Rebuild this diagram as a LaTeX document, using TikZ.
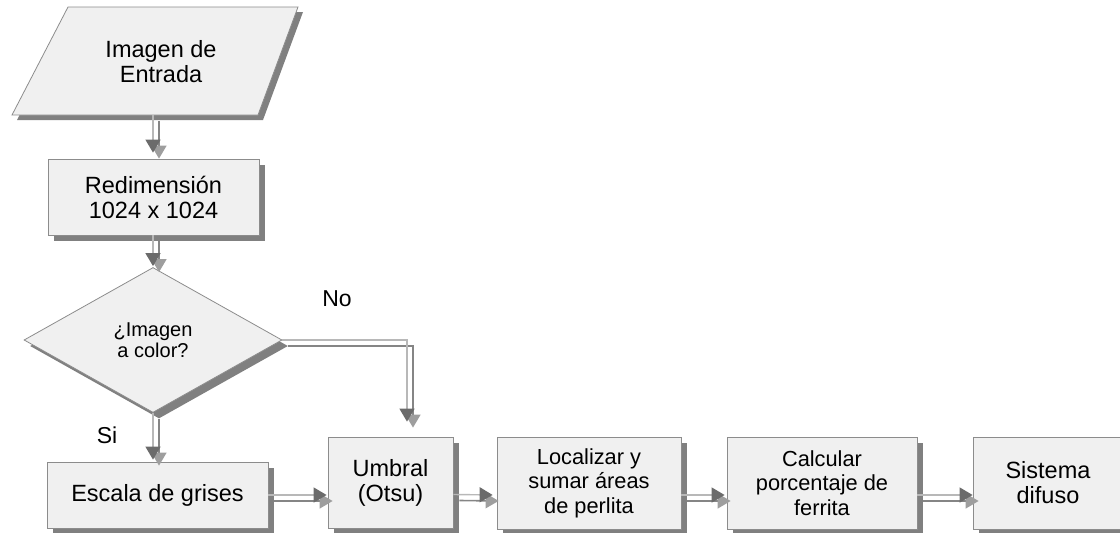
\documentclass[tikz,border=0pt]{standalone}
\usepackage{fontspec}
\setmainfont{Liberation Sans}
\usetikzlibrary{shapes.geometric,shadows,arrows.meta}

\tikzset{
  boxshade/.style={drop shadow={shadow xshift=6pt, shadow yshift=-6pt, fill=black!50, opacity=1}},
  procbox/.style={draw=black!45, line width=0.8pt, fill=black!6, align=center,
                  inner sep=0pt, boxshade},
  bigtxt/.style={font=\fontsize{23.5}{25}\selectfont},
  midtxt/.style={font=\fontsize{21.8}{24.5}\selectfont},
  dectxt/.style={font=\fontsize{20}{21}\selectfont},
  lbl/.style={font=\fontsize{23}{25}\selectfont, inner sep=0pt},
  flowline/.style={line width=1.4pt, draw=black!28,
                   -{Triangle[width=15pt,length=13pt,color=black!58]}},
  flowshade/.style={line width=1.6pt, draw=black!48,
                    -{Triangle[width=15pt,length=13pt,color=black!38]},
                    transform canvas={xshift=6pt,yshift=-6pt}},
}

% connector with its offset shadow drawn underneath
\newcommand\flowconn[2][]{%
  \draw[flowshade,#1] #2;
  \draw[flowline,#1] #2;}

\begin{document}
\begin{tikzpicture}[x=1pt,y=-1pt]
\useasboundingbox (0,0) rectangle (1120,533);

% input parallelogram
\fill[black!50, shift={(5,5)}] (68,7) -- (298,7) -- (258,115) -- (12,115) -- cycle;
\draw[black!45, line width=0.8pt, fill=black!6] (68,7) -- (298,7) -- (258,115) -- (12,115) -- cycle;
\node[bigtxt, align=center, inner sep=0pt] (inp) at (161,62) {Imagen de\\Entrada};
\coordinate (inpbot) at (153,115);

% process steps
\node[procbox, bigtxt, minimum width=211pt, minimum height=76pt] (redim) at (153.5,197)
  {Redimensión\\1024 x 1024};
\node[procbox, dectxt, diamond, minimum width=258pt, minimum height=145pt] (dec) at (153,340)
  {¿Imagen\\a color?};
\node[procbox, bigtxt, minimum width=221pt, minimum height=66pt] (esc) at (157.5,495)
  {Escala de grises};
\node[procbox, bigtxt, minimum width=125pt, minimum height=91pt] (umb) at (390.5,482.5)
  {Umbral\\(Otsu)};
\node[procbox, midtxt, minimum width=184pt, minimum height=92pt] (loc) at (589,483)
  {Localizar y\\sumar áreas\\de perlita};
\node[procbox, midtxt, minimum width=190pt, minimum height=92pt] (cal) at (822,483)
  {Calcular\\porcentaje de\\ferrita};
\node[procbox, bigtxt, minimum width=150pt, minimum height=92pt] (sis) at (1048,483)
  {Sistema\\difuso};

% branch labels
\node[lbl] (lblno) at (337,299) {No};
\node[lbl] (lblsi) at (107,435) {Si};

% connectors
\flowconn[shorten >=6pt]{(inpbot) -- (inpbot |- redim.north)}
\flowconn[shorten >=1pt]{(redim.south -| dec.north) -- (dec.north)}
\flowconn[shorten >=2pt]{(dec.south) -- (dec.south |- esc.north)}
\flowconn[shorten >=15pt]{(dec.east) -| ([xshift=16.5pt]umb.north)}
\flowconn[shorten >=1pt]{(esc.east) -- (esc.east -| umb.west)}
\flowconn[shorten >=4pt]{([yshift=-12pt]umb.east) -- ([yshift=-12pt]loc.west)}
\flowconn[shorten >=2pt]{([yshift=-12pt]loc.east) -- ([yshift=-12pt]cal.west)}
\flowconn[shorten >=0pt]{([yshift=-12pt]cal.east) -- ([yshift=-12pt]sis.west)}
\end{tikzpicture}
\end{document}
